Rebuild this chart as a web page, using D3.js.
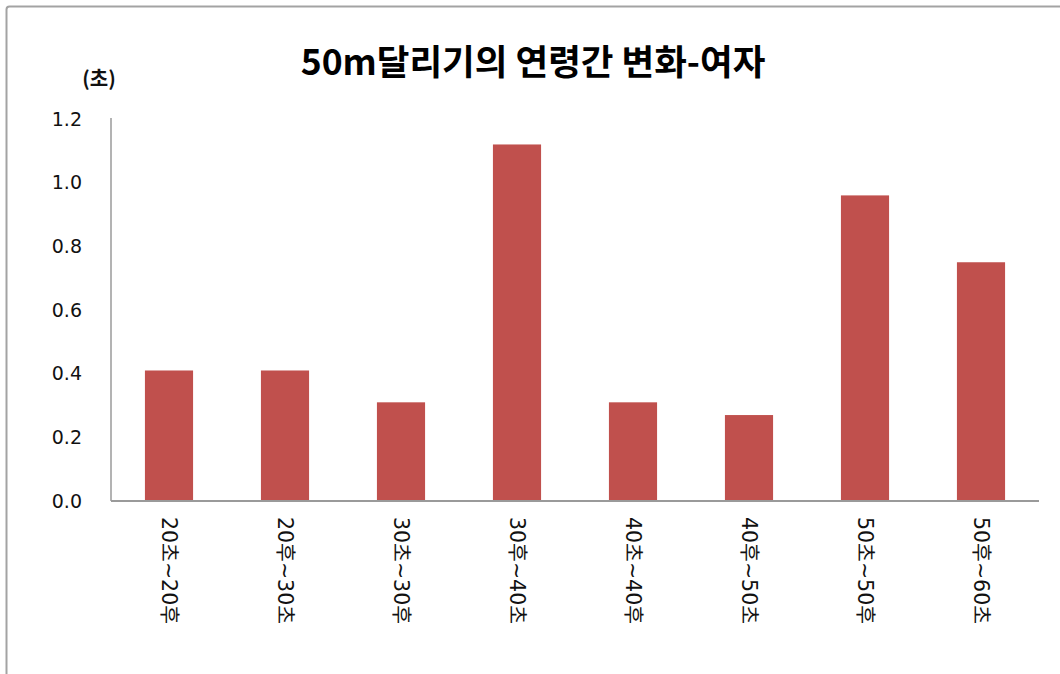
<!DOCTYPE html>
<html>
<head>
<meta charset="utf-8">
<style>
  body { margin: 0; background: #fff; }
  svg { display: block; }
  .tick-label { font-family: "DejaVu Sans", "Noto Sans CJK KR", sans-serif; font-size: 19px; fill: #111; }
  .cat-label { font-family: "DejaVu Sans", "Noto Sans CJK KR", sans-serif; font-size: 20.5px; fill: #111; }
  .unit { font-family: "Noto Sans CJK KR", sans-serif; font-size: 20px; font-weight: bold; fill: #111; }
  .title { font-family: "Noto Sans CJK KR", sans-serif; font-weight: bold; font-size: 35.5px; fill: #000; }
</style>
</head>
<body>
<svg width="1060" height="674"></svg>
<script src="https://d3js.org/d3.v7.min.js"></script>
<script>
// chart data
var categories = ["20초~20후", "20후~30초", "30초~30후", "30후~40초", "40초~40후", "40후~50초", "50초~50후", "50후~60초"];
var values = [0.41, 0.41, 0.31, 1.12, 0.31, 0.27, 0.96, 0.75];
var yTicks = [0.0, 0.2, 0.4, 0.6, 0.8, 1.0, 1.2];
var titleText = "50m달리기의 연령간 변화-여자";
var unitText = "(초)";

var svg = d3.select("svg");

// outer chart frame (only top and left edges are visible)
svg.append("rect")
    .attr("x", 6.5).attr("y", 6.5)
    .attr("width", 1120).attr("height", 720)
    .attr("rx", 3)
    .attr("fill", "none")
    .attr("stroke", "#a3a3a3")
    .attr("stroke-width", 2);

var plot = { left: 111, right: 1039, top: 119, bottom: 501 };

var x = d3.scaleBand()
    .domain(categories)
    .range([plot.left, plot.right])
    .paddingInner(0.585)
    .paddingOuter(0.2925);

var y = d3.scaleLinear()
    .domain([0, 1.2])
    .range([plot.bottom, plot.top]);

// title
svg.append("text")
    .attr("class", "title")
    .attr("x", 533)
    .attr("y", 75)
    .attr("text-anchor", "middle")
    .text(titleText);

// unit label
svg.append("text")
    .attr("class", "unit")
    .attr("x", 99)
    .attr("y", 86)
    .attr("text-anchor", "middle")
    .text(unitText);

// bars
svg.append("g").selectAll("rect")
    .data(values)
    .enter().append("rect")
    .attr("x", function (d, i) { return x(categories[i]); })
    .attr("y", function (d) { return y(d); })
    .attr("width", x.bandwidth())
    .attr("height", function (d) { return y(0) - y(d); })
    .attr("fill", "#c0504d");

// y axis
var yAxis = svg.append("g")
    .attr("transform", "translate(" + plot.left + ",0)")
    .call(d3.axisLeft(y).tickValues(yTicks).tickFormat(d3.format(".1f")).tickSize(0).tickPadding(29));
yAxis.select(".domain").attr("stroke", "#9a9a9a").attr("stroke-width", 1.5).attr("d", "M0," + (plot.top - 1) + "V" + plot.bottom);
yAxis.selectAll("text").attr("class", "tick-label").attr("font-family", null).attr("font-size", null).attr("fill", null);

// x axis
var xAxis = svg.append("g")
    .attr("transform", "translate(0," + plot.bottom + ")")
    .call(d3.axisBottom(x).tickSize(0).tickPadding(0));
xAxis.select(".domain").attr("stroke", "#9a9a9a").attr("stroke-width", 2).attr("d", "M" + plot.left + ",0H" + plot.right);
xAxis.selectAll("text")
    .attr("class", "cat-label")
    .attr("font-family", null).attr("font-size", null).attr("fill", null)
    .attr("text-anchor", "start")
    .attr("dy", null)
    .attr("y", 0)
    .attr("dominant-baseline", "central")
    .attr("transform", "translate(0,16) rotate(90)");
</script>
</body>
</html>
